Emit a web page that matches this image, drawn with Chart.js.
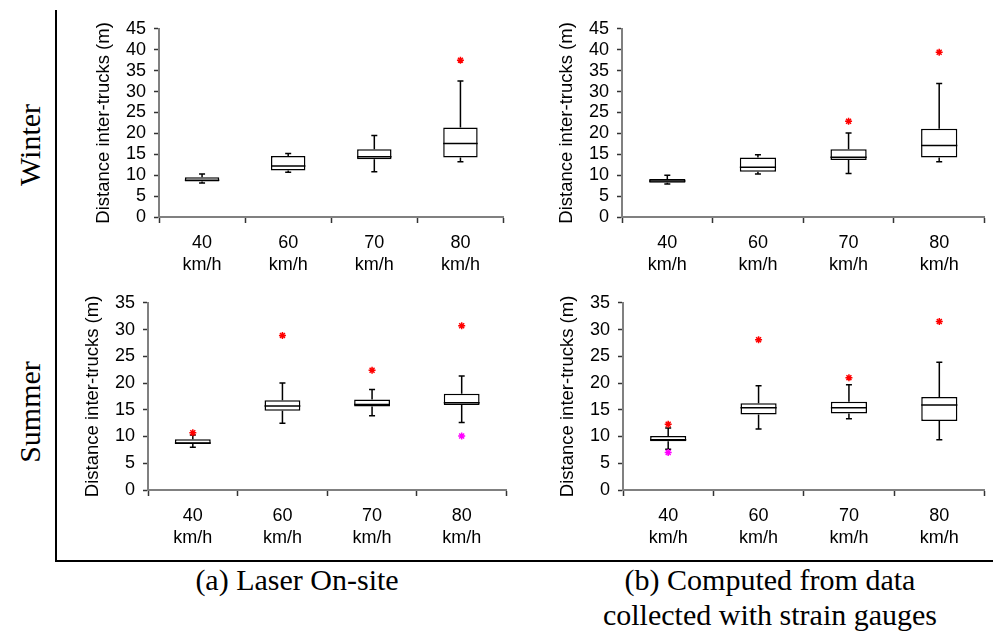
<!DOCTYPE html>
<html>
<head>
<meta charset="utf-8">
<title>Distance inter-trucks</title>
<script src="https://cdn.jsdelivr.net/npm/chart.js@4.4.1/dist/chart.umd.min.js"></script>
<style>
  body { margin: 0; background: #fff; }
  #page { position: relative; width: 993px; height: 633px; overflow: hidden; background: #fff; }
  #page canvas { position: absolute; }
  .frame-v { position: absolute; left: 55px; top: 10px; width: 2px; height: 552px; background: #000; }
  .frame-h { position: absolute; left: 55px; top: 560px; width: 938px; height: 2px; background: #000; }
  .season { position: absolute; font: 30px "Liberation Serif", "Times New Roman", serif; color: #000;
            transform: translate(-50%, -50%) rotate(-90deg); white-space: nowrap; }
  .caption { position: absolute; font: 30px "Liberation Serif", "Times New Roman", serif; color: #000;
             transform: translateX(-50%); white-space: nowrap; text-align: center; line-height: 35px; }
</style>
</head>
<body>
<div id="page">
  <div class="frame-v"></div>
  <div class="frame-h"></div>
  <div class="season" style="left:30px; top:145px;">Winter</div>
  <div class="season" style="left:30px; top:412px;">Summer</div>
  <div class="caption" style="left:297px; top:562px;">(a) Laser On-site</div>
  <div class="caption" style="left:770px; top:562px;">(b) Computed from data<br>collected with strain gauges</div>

  <canvas id="winterLaser" width="424" height="267" style="left:85px; top:10px;"></canvas>
  <canvas id="winterGauge" width="442" height="267" style="left:548px; top:10px;"></canvas>
  <canvas id="summerLaser" width="438" height="266" style="left:74px; top:284px;"></canvas>
  <canvas id="summerGauge" width="441" height="266" style="left:549px; top:284px;"></canvas>
</div>

<script>
// speeds on the x axis
const speeds = ['40', '60', '70', '80'];
const speedUnit = 'km/h';
const yTitle = 'Distance inter-trucks (m)';

// Winter, laser on-site
const winterLaserMin = [8.1, 10.7, 10.8, 13.2];
const winterLaserQ1  = [8.5, 11.1, 13.8, 14.2];
const winterLaserMed = [8.8, 12.2, 14.4, 17.6];
const winterLaserQ3  = [9.5, 14.6, 16.2, 21.4];
const winterLaserMax = [10.3, 15.2, 19.5, 32.5];
const winterLaserHigh = [null, null, null, 37.5];
const winterLaserLow  = [null, null, null, null];

// Winter, strain gauges
const winterGaugeMin = [7.9, 10.3, 10.4, 13.2];
const winterGaugeQ1  = [8.2, 10.8, 13.6, 14.2];
const winterGaugeMed = [8.6, 11.9, 14.3, 17.1];
const winterGaugeQ3  = [9.1, 14.2, 16.2, 21.1];
const winterGaugeMax = [10.0, 14.9, 20.1, 31.9];
const winterGaugeHigh = [null, null, 22.9, 39.4];
const winterGaugeLow  = [null, null, null, null];

// Summer, laser on-site
const summerLaserMin = [8.0, 12.5, 13.9, 12.6];
const summerLaserQ1  = [8.6, 14.8, 15.6, 15.9];
const summerLaserMed = [8.8, 15.7, 16.0, 16.3];
const summerLaserQ3  = [9.5, 16.8, 16.9, 18.0];
const summerLaserMax = [10.3, 20.0, 18.8, 21.3];
const summerLaserHigh = [10.7, 28.9, 22.4, 30.7];
const summerLaserLow  = [null, null, null, 10.1];

// Summer, strain gauges
const summerGaugeMin = [7.6, 11.4, 13.3, 9.4];
const summerGaugeQ1  = [9.1, 14.1, 14.3, 12.9];
const summerGaugeMed = [9.4, 15.4, 15.4, 15.9];
const summerGaugeQ3  = [10.1, 16.2, 16.5, 17.4];
const summerGaugeMax = [11.6, 19.5, 19.7, 23.9];
const summerGaugeHigh = [12.3, 28.1, 21.0, 31.5];
const summerGaugeLow  = [7.0, null, null, null];

const sansFont = '"Liberation Sans", Arial, sans-serif';

// whiskers, caps and median line, drawn right after the box dataset
const whiskerPlugin = {
  id: 'whiskers',
  afterDatasetDraw(chart, args) {
    const ds = chart.data.datasets[args.index];
    if (!ds.whisker) return;
    const st = ds.whisker;
    const y = chart.scales.y;
    const ctx = chart.ctx;
    ctx.save();
    ctx.strokeStyle = '#000';
    ctx.lineWidth = 1.5;
    args.meta.data.forEach((bar, i) => {
      const x = bar.x;
      const half = bar.width / 2;
      const cap = 3;
      const pMin = y.getPixelForValue(st.min[i]);
      const pQ1 = y.getPixelForValue(st.q1[i]);
      const pMed = y.getPixelForValue(st.med[i]);
      const pQ3 = y.getPixelForValue(st.q3[i]);
      const pMax = y.getPixelForValue(st.max[i]);
      ctx.beginPath();
      ctx.moveTo(x, pQ1); ctx.lineTo(x, pMin);
      ctx.moveTo(x - cap, pMin); ctx.lineTo(x + cap, pMin);
      ctx.moveTo(x, pQ3); ctx.lineTo(x, pMax);
      ctx.moveTo(x - cap, pMax); ctx.lineTo(x + cap, pMax);
      ctx.moveTo(x - half, pMed); ctx.lineTo(x + half, pMed);
      ctx.stroke();
    });
    ctx.restore();
  }
};

function outlierSet(values, color) {
  return {
    type: 'line', data: values, showLine: false, order: 1,
    pointStyle: 'star', pointRadius: 3.5, pointBorderWidth: 1.5,
    borderColor: color, pointBorderColor: color, pointBackgroundColor: color
  };
}

function boxChart(id, mins, q1s, meds, q3s, maxs, high, low, yMax) {
  new Chart(document.getElementById(id), {
    type: 'bar',
    data: {
      labels: speeds.map(s => [s, speedUnit]),
      datasets: [
        {
          type: 'bar', order: 2,
          data: q1s.map((v, i) => [v, q3s[i]]),
          whisker: { min: mins, q1: q1s, med: meds, q3: q3s, max: maxs },
          backgroundColor: '#fff', borderColor: '#000', borderWidth: 1.5, borderSkipped: false,
          barPercentage: 0.4, categoryPercentage: 1
        },
        outlierSet(high, '#ff0000'),
        outlierSet(low, '#ff00ff')
      ]
    },
    options: {
      responsive: false,
      animation: false,
      layout: { padding: { top: 14, right: 1, left: 0, bottom: 0 } },
      plugins: { legend: { display: false }, tooltip: { enabled: false } },
      scales: {
        x: {
          offset: true,
          grid: { offset: true, drawOnChartArea: false, tickLength: 6, tickColor: '#333', tickWidth: 1.5 },
          border: { color: '#808080', width: 2 },
          ticks: { font: { family: sansFont, size: 18, lineHeight: 1.22 }, color: '#000', padding: 9, maxRotation: 0 },
          afterFit(s) { s.height = 60; }
        },
        y: {
          min: 0, max: yMax,
          ticks: { stepSize: 5, autoSkip: false, font: { family: sansFont, size: 18 }, color: '#000', padding: 8 },
          grid: { drawOnChartArea: false, tickLength: 5, tickColor: '#333', tickWidth: 1.5 },
          border: { color: '#808080', width: 2 },
          title: { display: true, text: yTitle, color: '#000',
                   font: { family: sansFont, size: 18.5 }, padding: { top: 8, bottom: 0 } },
          afterFit(s) { s.width = 74; }
        }
      }
    },
    plugins: [whiskerPlugin]
  });
}

boxChart('winterLaser', winterLaserMin, winterLaserQ1, winterLaserMed, winterLaserQ3, winterLaserMax, winterLaserHigh, winterLaserLow, 45);
boxChart('winterGauge', winterGaugeMin, winterGaugeQ1, winterGaugeMed, winterGaugeQ3, winterGaugeMax, winterGaugeHigh, winterGaugeLow, 45);
boxChart('summerLaser', summerLaserMin, summerLaserQ1, summerLaserMed, summerLaserQ3, summerLaserMax, summerLaserHigh, summerLaserLow, 35);
boxChart('summerGauge', summerGaugeMin, summerGaugeQ1, summerGaugeMed, summerGaugeQ3, summerGaugeMax, summerGaugeHigh, summerGaugeLow, 35);
</script>
</body>
</html>
